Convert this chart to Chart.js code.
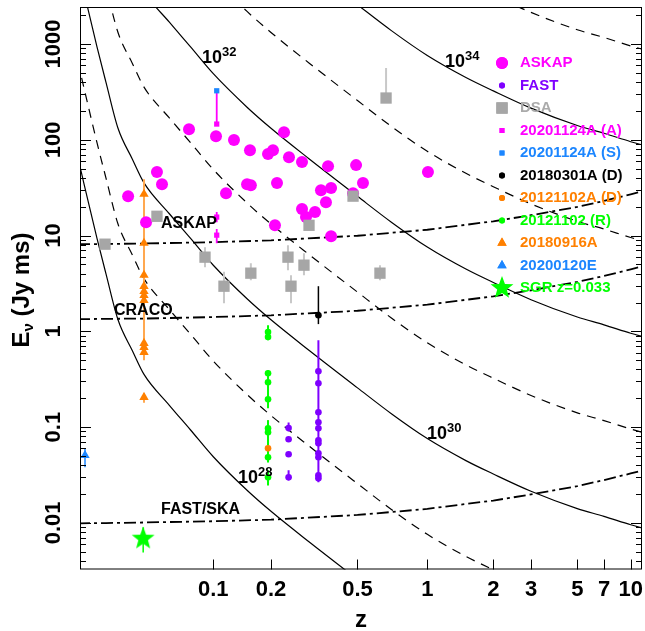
<!DOCTYPE html>
<html>
<head>
<meta charset="utf-8">
<script src="https://cdn.jsdelivr.net/npm/chart.js@4.4.0/dist/chart.umd.min.js"></script>
<style>
  html, body { margin: 0; padding: 0; background: #fff; }
  canvas { display: block; }
</style>
</head>
<body>
<canvas id="myChart" width="645" height="631"></canvas>
<script>
// ---- x axis: z on a warped axis, knots ----
var zKnots = [0.0025, 0.0034, 0.0066, 0.0174, 0.0337, 0.1, 0.2, 0.5, 1, 2, 3, 5, 7, 10, 12]
var uKnots = [-1.6322, -1.6042, -1.5435, -1.4453, -1.3238, -1.0, -0.7304, -0.3262, 0, 0.3084, 0.4846, 0.7009, 0.8257, 0.9505, 1.0140]
var uMin = -1.6229, uMax = 1.0033
var zTicks = [0.1, 0.2, 0.5, 1, 2, 3, 5, 7, 10]
var zTickLabels = ['0.1', '0.2', '0.5', '1', '2', '3', '5', '7', '10']
var yMin = 0.00326, yMax = 2436
var yTickLabels = ['0.01', '0.1', '1', '10', '100', '1000']

// ---- constant luminosity curves (erg/s/Hz), E in Jy ms at lumZ ----
var lumZ = [0.0025, 0.0034, 0.0066, 0.01, 0.0174, 0.025, 0.0337, 0.05, 0.07, 0.1, 0.15, 0.2, 0.3, 0.5, 0.7, 1, 1.5, 2, 3, 5, 7, 10, 12]
var lum28 = [64.6, 34.7, 9.33, 3.98, 1.32, 0.631, 0.355, 0.170, 0.0933, 0.0490, 0.0219, 0.0132, 0.00631, 0.00257, 0.00138, null, null, null, null, null, null, null, null]
var lum29 = [646, 347, 93.3, 39.8, 13.2, 6.31, 3.55, 1.70, 0.933, 0.490, 0.219, 0.132, 0.0631, 0.0257, 0.0138, 0.00759, 0.00447, 0.00324, 0.00214, null, null, null, null]
var lum30 = [6460, 3470, 933, 398, 132, 63.1, 35.5, 17.0, 9.33, 4.90, 2.19, 1.32, 0.631, 0.257, 0.138, 0.0759, 0.0447, 0.0324, 0.0214, 0.0141, 0.0117, 0.00955, 0.00871]
var lum31 = [null, null, 9330, 3980, 1320, 631, 355, 170, 93.3, 49.0, 21.9, 13.2, 6.31, 2.57, 1.38, 0.759, 0.447, 0.324, 0.214, 0.141, 0.117, 0.0955, 0.0871]
var lum32 = [null, null, null, null, 13200, 6310, 3550, 1700, 933, 490, 219, 132, 63.1, 25.7, 13.8, 7.59, 4.47, 3.24, 2.14, 1.41, 1.17, 0.955, 0.871]
var lum33 = [null, null, null, null, null, null, null, 17000, 9330, 4900, 2190, 1320, 631, 257, 138, 75.9, 44.7, 32.4, 21.4, 14.1, 11.7, 9.55, 8.71]
var lum34 = [null, null, null, null, null, null, null, null, null, null, null, 13200, 6310, 2570, 1380, 759, 447, 324, 214, 141, 117, 95.5, 87.1]
var lum35 = [null, null, null, null, null, null, null, null, null, null, null, null, null, null, 13800, 7590, 4470, 3240, 2140, 1410, 1170, 955, 871]

// ---- survey fluence limits ----
var limZ = [0.0025, 0.01, 0.0337, 0.1, 0.2, 0.5, 1, 2, 3, 5, 7, 10, 12]
var limASKAP = [8.14, 8.17, 8.26, 8.53, 8.91, 9.96, 11.5, 14.1, 16.3, 19.9, 23.0, 27.0, 29.3]
var limCRACO = [1.34, 1.35, 1.36, 1.41, 1.47, 1.64, 1.90, 2.32, 2.68, 3.28, 3.79, 4.44, 4.83]
var limFAST = [0.0099, 0.00995, 0.0101, 0.0104, 0.0108, 0.0121, 0.0140, 0.0171, 0.0198, 0.0242, 0.0280, 0.0328, 0.0357]

// ---- bursts ----
var askapZ = [0.0225, 0.0348, 0.0413, 0.0447, 0.0683, 0.1033, 0.1165, 0.1282, 0.150, 0.157, 0.1554, 0.193, 0.2043, 0.2131, 0.2086, 0.2296, 0.242, 0.2778, 0.2778, 0.2898, 0.3188, 0.3396, 0.358, 0.366, 0.378, 0.378, 0.477, 0.4926, 0.528, 1.007]
var askapE = [25.8, 13.8, 46.0, 34.4, 129, 109, 27.7, 99.3, 34.4, 33.6, 78.0, 70.9, 78.0, 35.3, 12.8, 120, 65.9, 58.5, 18.9, 15.6, 17.6, 29.8, 22.3, 53.1, 31.3, 9.86, 27.7, 54.4, 35.3, 46.0]

var dsaZ = [0.00955, 0.0413, 0.0878, 0.1137, 0.157, 0.2394, 0.2472, 0.2836, 0.2992, 0.477, 0.625, 0.664]
var dsaE = [8.13, 15.9, 5.95, 2.96, 4.05, 5.95, 2.96, 4.91, 12.8, 25.8, 4.05, 273]
var dsaLo = [null, null, 4.68, 1.97, 3.42, 4.35, 1.97, 3.86, null, null, 3.42, 273]
var dsaHi = [null, null, 7.56, 4.18, 5.15, 7.94, 3.86, 6.55, null, null, 4.91, 561]

var fastZ = [0.241, 0.241, 0.241, 0.241, 0.3305, 0.3305, 0.3305, 0.3305, 0.3305, 0.3305, 0.3305, 0.3305, 0.3305, 0.3305, 0.3305]
var fastE = [0.0979, 0.0746, 0.0520, 0.0299, 0.383, 0.287, 0.1428, 0.1122, 0.0971, 0.0728, 0.0677, 0.0532, 0.0484, 0.0313, 0.0292]
var fastBarZ = [0.241, 0.241, 0.3305]
var fastBarLo = [0.0901, 0.0278, 0.0265]
var fastBarHi = [0.1119, 0.0354, 0.807]

var frb1124Z = 0.1042
var frb1124AE = [146, 15.6, 10.1]
var frb1124SE = [325]
var frb1124BarLo = [146, 13.8, 8.33]
var frb1124BarHi = [325, 17.6, 11.7]

var frb0301Z = 0.3305
var frb0301E = [1.47]
var frb0301Bar = [1.19, 2.96]

var frb1102Z = 0.193
var frb1102DE = [0.060]
var frb1102DBar = [0.060, 0.118]
var frb1102RE = [0.986, 0.874, 0.365, 0.294, 0.195, 0.0971, 0.0882, 0.0484, 0.0299]
var frb1102RBarLo = [0.807, 0.157, 0.0428, 0.0246]
var frb1102RBarHi = [1.158, 0.392, 0.118, 0.0354]

var frb0916Z = 0.0337
var frb0916E = [27.1, 8.33, 3.86, 2.96, 2.62, 2.38, 2.11, 0.751, 0.682, 0.605, 0.205]
var frb0916BarLo = [0.499, 0.180]
var frb0916BarHi = [38.8, 0.224]

var frb0120Z = 0.00358
var frb0120E = [0.0507]
var frb0120Bar = [0.038, 0.0603]

var sgrZ = 0.033
var sgrE = [0.00684]
var sgrBar = [0.00492, 0.00898]

// ---- colours ----
var cMagenta = '#ff00ff', cViolet = '#7f00ff', cGray = '#a6a6a6', cBlue = '#1c86ff'
var cOrange = '#ff8000', cGreen = '#00ff00'

function zToU(z) {
  var lz = Math.log10(z)
  var i = 0
  while (i < zKnots.length - 2 && lz > Math.log10(zKnots[i + 1])) i++
  var a = Math.log10(zKnots[i]), b = Math.log10(zKnots[i + 1])
  return uKnots[i] + (lz - a) / (b - a) * (uKnots[i + 1] - uKnots[i])
}
function pts(zs, es) { return zs.map((z, i) => ({x: zToU(z), y: es[i]})) }
function col(z, es) { return es.map(e => ({x: zToU(z), y: e})) }
function bars(zs, lo, hi) {
  var out = []
  zs.forEach((z, i) => {
    out.push({x: zToU(z), y: lo[i]}, {x: zToU(z), y: hi[i]}, {x: zToU(z), y: null})
  })
  return out
}
function starImage(r, color) {
  var c = document.createElement('canvas')
  c.width = c.height = 2 * r + 2
  var g = c.getContext('2d')
  g.fillStyle = color
  g.beginPath()
  for (var k = 0; k < 10; k++) {
    var rad = k % 2 ? r * 0.42 : r
    var a = -Math.PI / 2 + k * Math.PI / 5
    g.lineTo(r + 1 + rad * Math.cos(a), r + 1 + rad * Math.sin(a))
  }
  g.closePath()
  g.fill()
  return c
}
var star = starImage(12, cGreen)

function curve(label, arr, dashed) {
  return { label: label, data: pts(lumZ, arr), showLine: true, pointRadius: 0, borderColor: '#000',
    borderWidth: 1.2, borderDash: dashed ? [9, 7] : [], cubicInterpolationMode: 'monotone', order: 30 }
}
function limit(label, arr) {
  return { label: label, data: pts(limZ, arr), showLine: true, pointRadius: 0, borderColor: '#000',
    borderWidth: 1.8, borderDash: [12, 4, 3, 4], order: 25 }
}
function errs(label, data, color, width) {
  return { label: label, data: data, showLine: true, spanGaps: false, pointRadius: 0, borderColor: color,
    borderWidth: width, order: 20, clip: false }
}
function marks(label, data, style, radius, color) {
  return { label: label, data: data, pointStyle: style, pointRadius: radius, backgroundColor: color,
    borderWidth: 0, borderColor: color, showLine: false, order: 5, clip: false }
}

var datasets = [
  curve('1e28', lum28, false), curve('1e29', lum29, true), curve('1e30', lum30, false), curve('1e31', lum31, true),
  curve('1e32', lum32, false), curve('1e33', lum33, true), curve('1e34', lum34, false), curve('1e35', lum35, true),
  limit('ASKAP limit', limASKAP), limit('CRACO limit', limCRACO), limit('FAST/SKA limit', limFAST),
  errs('DSA err', bars(dsaZ.filter((z, i) => dsaLo[i] != null), dsaLo.filter(v => v != null), dsaHi.filter(v => v != null)), '#c8c8c8', 2),
  errs('FAST err', bars(fastBarZ, fastBarLo, fastBarHi), cViolet, 2),
  errs('20201124A err', bars([frb1124Z, frb1124Z, frb1124Z], frb1124BarLo, frb1124BarHi), cMagenta, 1.8),
  errs('20180301A err', bars([frb0301Z], [frb0301Bar[0]], [frb0301Bar[1]]), '#000', 1.5),
  errs('20121102 (R) err', bars([frb1102Z, frb1102Z, frb1102Z, frb1102Z], frb1102RBarLo, frb1102RBarHi), cGreen, 2),
  errs('20121102A (D) err', bars([frb1102Z], [frb1102DBar[0]], [frb1102DBar[1]]), 'rgba(190,120,0,0.75)', 2),
  errs('20180916A err', bars([frb0916Z, frb0916Z], frb0916BarLo, frb0916BarHi), '#ffa850', 2),
  errs('20200120E err', bars([frb0120Z], [frb0120Bar[0]], [frb0120Bar[1]]), cBlue, 1.5),
  errs('SGR err', bars([sgrZ], [sgrBar[0]], [sgrBar[1]]), cGreen, 1.5),
  marks('DSA', pts(dsaZ, dsaE), 'rect', 8, cGray),
  marks('ASKAP', pts(askapZ, askapE), 'circle', 6, cMagenta),
  marks('FAST', pts(fastZ, fastE), 'circle', 3.3, cViolet),
  marks('20201124A (A)', col(frb1124Z, frb1124AE), 'rect', 3.7, cMagenta),
  marks('20201124A (S)', col(frb1124Z, frb1124SE), 'rect', 3.7, cBlue),
  marks('20180301A (D)', col(frb0301Z, frb0301E), 'circle', 3.3, '#000'),
  marks('20121102 (R)', col(frb1102Z, frb1102RE), 'circle', 3.3, cGreen),
  marks('20121102A (D)', col(frb1102Z, frb1102DE), 'circle', 3.3, cOrange),
  marks('20180916A', col(frb0916Z, frb0916E), 'triangle', 5.4, cOrange),
  marks('20200120E', col(frb0120Z, frb0120E), 'triangle', 5.4, cBlue),
  marks('SGR z=0.033', col(sgrZ, sgrE), star, 12, cGreen)
]

// legend rows: label, colour, style, radius
var legendRows = [
  ['ASKAP', cMagenta, 'circle', 6], ['FAST', cViolet, 'circle', 3], ['DSA', cGray, 'rect', 8],
  ['20201124A (A)', cMagenta, 'rect', 3.5], ['20201124A (S)', cBlue, 'rect', 3.5], ['20180301A (D)', '#000', 'circle', 3],
  ['20121102A (D)', cOrange, 'circle', 3], ['20121102 (R)', cGreen, 'circle', 3], ['20180916A', cOrange, 'triangle', 5.4],
  ['20200120E', cBlue, 'triangle', 5.4], ['SGR z=0.033', cGreen, star, 12]
]
var legendTextColor = [cMagenta, cViolet, '#aaaaaa', cMagenta, cBlue, '#000', cOrange, cGreen, cOrange, cBlue, cGreen]

// text on the plot: [text, superscript, z, E]
var notes = [
  ['10', '32', 0.0838, 633], ['10', '34', 1.204, 575], ['10', '30', 0.997, 0.0746], ['10', '28', 0.1345, 0.0259],
  ['ASKAP', '', 0.0440, 12.1], ['CRACO', '', 0.01447, 1.47], ['FAST/SKA', '', 0.0440, 0.01227]
]

var FONT = '"Liberation Sans", Arial, Helvetica, sans-serif'

// pin the plot frame where the reference has it
var AREA = { left: 80, top: 7, right: 642, bottom: 569.5 }
var pinArea = {
  id: 'pinArea',
  afterLayout: function(chart) {
    var ca = chart.chartArea
    ca.left = AREA.left; ca.top = AREA.top; ca.right = AREA.right; ca.bottom = AREA.bottom
    ca.width = AREA.right - AREA.left; ca.height = AREA.bottom - AREA.top
    var x = chart.scales.x, y = chart.scales.y
    x.left = AREA.left; x.right = AREA.right; x.width = ca.width
    x.top = AREA.bottom; x.bottom = chart.height; x.height = chart.height - AREA.bottom
    y.left = 0; y.right = AREA.left; y.width = AREA.left
    y.top = AREA.top; y.bottom = AREA.bottom; y.height = ca.height
    x.configure(); y.configure()
  }
}

var decor = {
  id: 'decor',
  afterDraw: function(chart) {
    var g = chart.ctx, a = chart.chartArea
    var xs = chart.scales.x, ys = chart.scales.y
    g.save()
    g.strokeStyle = '#000'
    g.lineWidth = 1
    g.strokeRect(a.left + 0.5, a.top + 0.5, a.right - a.left - 1, a.bottom - a.top - 1)
    // inner ticks, left and right
    g.beginPath()
    for (var n = -3; n <= 3; n++) {
      for (var m = 1; m <= 9; m++) {
        var v = m * Math.pow(10, n)
        if (v < yMin || v > yMax) continue
        var y = Math.round(ys.getPixelForValue(v)) + 0.5
        var len = m === 1 ? 11 : 6
        g.moveTo(a.left, y); g.lineTo(a.left + len, y)
        g.moveTo(a.right, y); g.lineTo(a.right - len, y)
      }
    }
    zTicks.forEach(function(z) {
      var x = Math.round(xs.getPixelForValue(zToU(z))) + 0.5
      g.moveTo(x, a.bottom); g.lineTo(x, a.bottom - 10)
    })
    g.stroke()

    // notes
    g.fillStyle = '#000'
    g.textBaseline = 'alphabetic'
    notes.forEach(function(t) {
      var x = xs.getPixelForValue(zToU(t[2])), y = ys.getPixelForValue(t[3])
      if (t[1]) {
        g.font = 'bold 18px ' + FONT
        g.fillText(t[0], x, y)
        var w = g.measureText(t[0]).width
        g.font = 'bold 13px ' + FONT
        g.fillText(t[1], x + w, y - 7)
      } else {
        g.font = 'bold 16px ' + FONT
        g.fillText(t[0], x, y)
      }
    })

    // legend
    legendRows.forEach(function(r, i) {
      var y = 63 + i * 22.5
      g.fillStyle = r[1]
      if (typeof r[2] === 'string') {
        g.beginPath()
        Chart.helpers.drawPoint(g, { pointStyle: r[2], radius: r[3], borderWidth: 0 }, 502, y)
        g.fill()
      } else {
        Chart.helpers.drawPoint(g, { pointStyle: r[2], radius: r[3], borderWidth: 0 }, 502, y)
      }
      g.font = 'bold 15px ' + FONT
      g.textBaseline = 'middle'
      g.fillStyle = legendTextColor[i]
      g.fillText(r[0], 520, y)
    })

    // y axis title with subscript nu
    g.translate(22, 290)
    g.rotate(-Math.PI / 2)
    g.fillStyle = '#000'
    g.textBaseline = 'middle'
    g.font = 'bold 24px ' + FONT
    var wE = g.measureText('E').width, wRest = g.measureText(' (Jy ms)').width
    g.font = 'bold 15px ' + FONT
    var wNu = g.measureText('\u03bd').width
    var x0 = -(wE + wNu + wRest) / 2
    g.font = 'bold 24px ' + FONT
    g.fillText('E', x0, 0)
    g.font = 'bold 15px ' + FONT
    g.fillText('\u03bd', x0 + wE, 7)
    g.font = 'bold 24px ' + FONT
    g.fillText(' (Jy ms)', x0 + wE + wNu, 0)
    g.restore()
  }
}

const ctx = document.getElementById('myChart')
var chart = new Chart(ctx, {
  type: 'scatter',
  data: { datasets: datasets },
  options: {
    responsive: false,
    animation: false,
    devicePixelRatio: 1,
    layout: { padding: { left: 0, right: 3, top: 7, bottom: 0 } },
    plugins: { legend: { display: false }, tooltip: { enabled: false } },
    scales: {
      x: {
        type: 'linear', min: uMin, max: uMax,
        grid: { display: false, drawTicks: false }, border: { display: false },
        afterBuildTicks: function(s) { s.ticks = zTicks.map(z => ({ value: zToU(z) })) },
        ticks: {
          autoSkip: false, maxRotation: 0, padding: 7, color: '#000',
          font: { family: FONT, weight: 'bold', size: 22, lineHeight: 1.2 },
          callback: function(v, i) { return zTickLabels[i] }
        },
        title: { display: true, text: 'z', color: '#000', padding: { top: 0, bottom: 0 },
          font: { family: FONT, weight: 'bold', size: 24, lineHeight: 0.85 } }
      },
      y: {
        type: 'logarithmic', min: yMin, max: yMax,
        grid: { display: false, drawTicks: false }, border: { display: false },
        ticks: {
          autoSkip: false, minRotation: 90, maxRotation: 90, crossAlign: 'center', padding: 2, color: '#000',
          font: { family: FONT, weight: 'bold', size: 22 },
          callback: function(v) {
            var l = Math.log10(v), r = Math.round(l)
            return Math.abs(l - r) < 1e-6 && r >= -2 && r <= 3 ? yTickLabels[r + 2] : ''
          }
        }
      }
    }
  },
  plugins: [pinArea, decor]
})
</script>
</body>
</html>
